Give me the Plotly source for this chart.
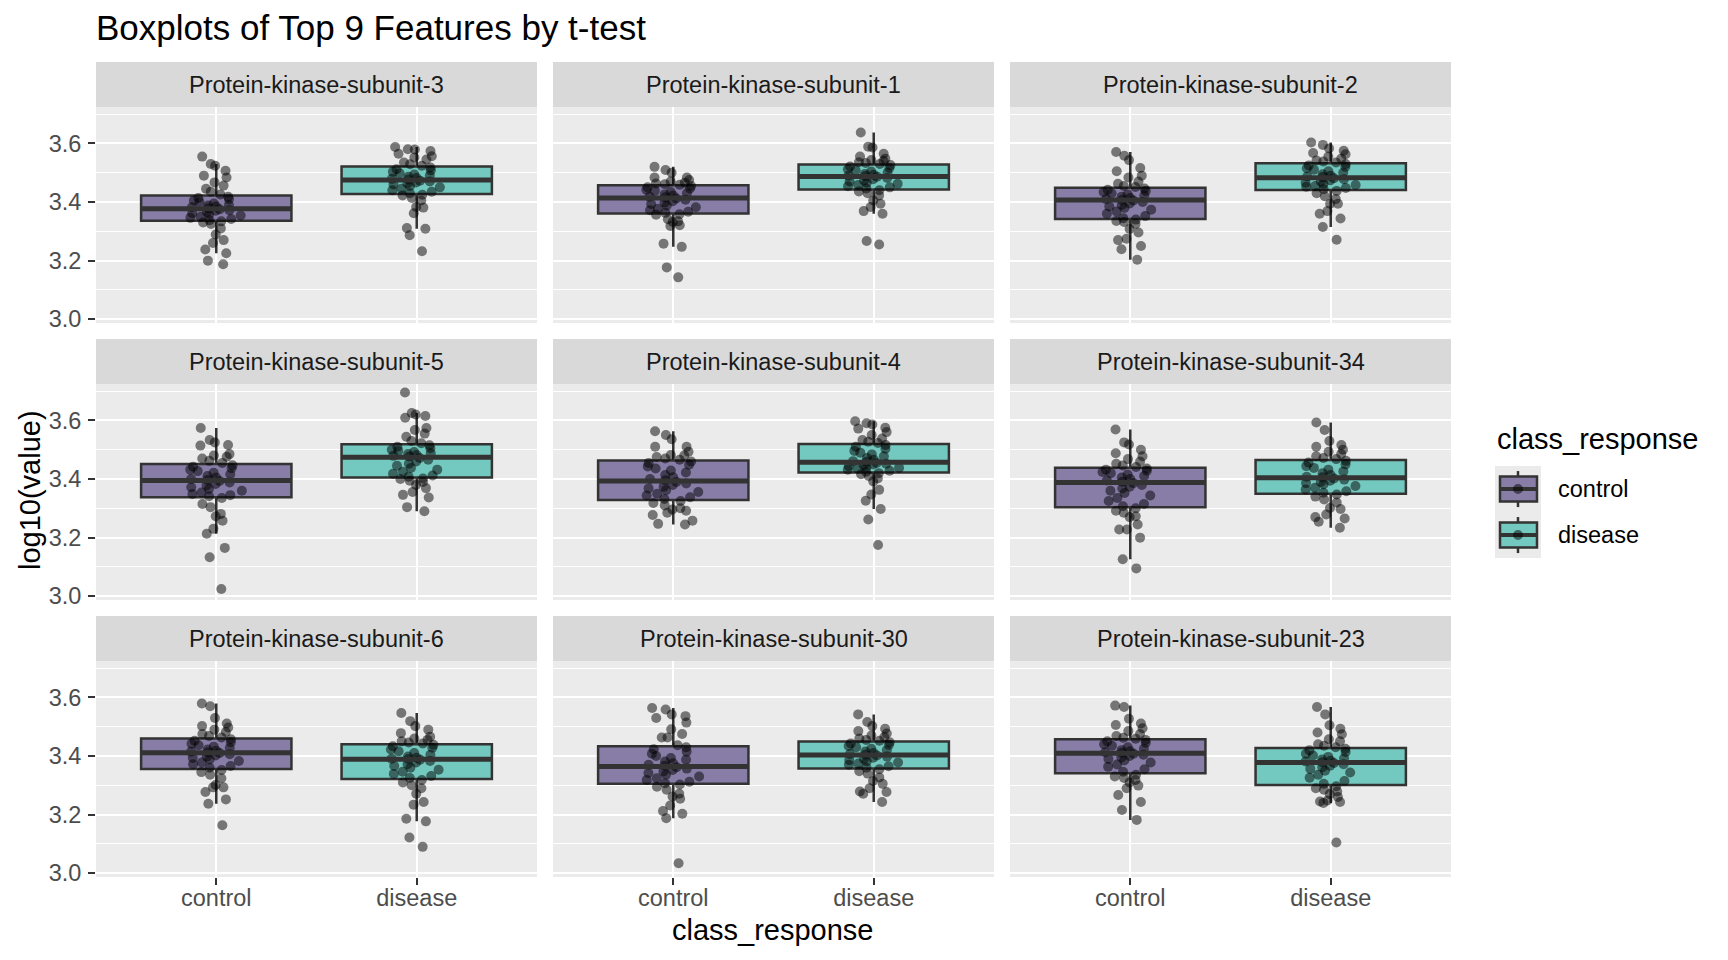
import numpy as np
import plotly.graph_objects as go

features = ["Protein-kinase-subunit-3", "Protein-kinase-subunit-1", "Protein-kinase-subunit-2",
            "Protein-kinase-subunit-5", "Protein-kinase-subunit-4", "Protein-kinase-subunit-34",
            "Protein-kinase-subunit-6", "Protein-kinase-subunit-30", "Protein-kinase-subunit-23"]
groups = ["control", "disease"]

# log10(value) per facet and class
pk3_control = [3.555, 3.53, 3.524, 3.507, 3.49, 3.484, 3.467, 3.456, 3.445, 3.435, 3.426,
               3.418, 3.414, 3.41, 3.405, 3.40, 3.395, 3.39, 3.388, 3.385, 3.382, 3.379,
               3.375, 3.372, 3.37, 3.366, 3.362, 3.358, 3.354, 3.35, 3.346, 3.342, 3.338,
               3.334, 3.33, 3.325, 3.31, 3.289, 3.27, 3.26, 3.238, 3.225, 3.2, 3.188]
pk3_disease = [3.588, 3.58, 3.579, 3.574, 3.565, 3.556, 3.552, 3.545, 3.535, 3.529, 3.524,
               3.518, 3.512, 3.508, 3.503, 3.498, 3.494, 3.49, 3.486, 3.482, 3.479, 3.477,
               3.473, 3.47, 3.467, 3.463, 3.46, 3.455, 3.45, 3.445, 3.44, 3.435, 3.43,
               3.425, 3.422, 3.414, 3.405, 3.383, 3.381, 3.362, 3.311, 3.309, 3.287, 3.232]
pk1_control = [3.52, 3.509, 3.5, 3.484, 3.484, 3.475, 3.47, 3.466, 3.463, 3.461, 3.459,
               3.455, 3.45, 3.446, 3.442, 3.438, 3.434, 3.43, 3.426, 3.422, 3.418, 3.416,
               3.412, 3.408, 3.403, 3.398, 3.393, 3.388, 3.382, 3.377, 3.372, 3.367, 3.363,
               3.358, 3.357, 3.341, 3.334, 3.332, 3.321, 3.318, 3.258, 3.247, 3.177, 3.143]
pk1_disease = [3.637, 3.589, 3.586, 3.565, 3.555, 3.548, 3.543, 3.54, 3.536, 3.533, 3.53,
               3.526, 3.521, 3.516, 3.512, 3.508, 3.504, 3.5, 3.496, 3.493, 3.49, 3.489,
               3.486, 3.482, 3.478, 3.474, 3.47, 3.466, 3.462, 3.458, 3.454, 3.45, 3.446,
               3.44, 3.436, 3.43, 3.422, 3.405, 3.394, 3.383, 3.369, 3.36, 3.267, 3.255]
pk2_control = [3.571, 3.558, 3.543, 3.516, 3.505, 3.49, 3.484, 3.47, 3.462, 3.455, 3.451,
               3.446, 3.442, 3.438, 3.434, 3.43, 3.426, 3.422, 3.418, 3.414, 3.41, 3.408,
               3.405, 3.4, 3.395, 3.39, 3.385, 3.38, 3.374, 3.368, 3.36, 3.352, 3.345,
               3.34, 3.335, 3.332, 3.325, 3.308, 3.296, 3.275, 3.27, 3.25, 3.239, 3.203]
pk2_disease = [3.603, 3.595, 3.583, 3.575, 3.567, 3.563, 3.555, 3.548, 3.542, 3.538, 3.535,
               3.53, 3.525, 3.52, 3.515, 3.51, 3.505, 3.5, 3.495, 3.49, 3.487, 3.485,
               3.481, 3.478, 3.474, 3.47, 3.466, 3.462, 3.458, 3.455, 3.452, 3.448, 3.444,
               3.438, 3.43, 3.42, 3.41, 3.394, 3.394, 3.369, 3.36, 3.344, 3.315, 3.271]
pk5_control = [3.574, 3.533, 3.525, 3.516, 3.514, 3.485, 3.48, 3.476, 3.47, 3.462, 3.455,
               3.447, 3.442, 3.437, 3.432, 3.427, 3.421, 3.416, 3.41, 3.405, 3.4, 3.397,
               3.393, 3.388, 3.383, 3.378, 3.372, 3.366, 3.36, 3.354, 3.349, 3.345, 3.341,
               3.335, 3.315, 3.304, 3.281, 3.273, 3.258, 3.23, 3.213, 3.165, 3.133, 3.025]
pk5_disease = [3.695, 3.625, 3.62, 3.615, 3.609, 3.574, 3.567, 3.555, 3.544, 3.53, 3.522,
               3.515, 3.51, 3.505, 3.5, 3.496, 3.492, 3.488, 3.485, 3.482, 3.479, 3.477,
               3.472, 3.466, 3.46, 3.452, 3.445, 3.438, 3.432, 3.425, 3.418, 3.412, 3.408,
               3.402, 3.4, 3.394, 3.39, 3.38, 3.369, 3.356, 3.346, 3.337, 3.304, 3.29]
pk4_control = [3.563, 3.55, 3.536, 3.51, 3.51, 3.493, 3.482, 3.48, 3.475, 3.47, 3.466,
               3.46, 3.455, 3.449, 3.443, 3.436, 3.429, 3.422, 3.414, 3.406, 3.4, 3.396,
               3.39, 3.385, 3.38, 3.374, 3.368, 3.362, 3.356, 3.35, 3.344, 3.338, 3.332,
               3.325, 3.318, 3.31, 3.3, 3.296, 3.292, 3.285, 3.277, 3.258, 3.247, 3.245]
pk4_disease = [3.597, 3.59, 3.586, 3.575, 3.572, 3.56, 3.55, 3.538, 3.533, 3.527, 3.523,
               3.516, 3.51, 3.503, 3.496, 3.49, 3.484, 3.478, 3.472, 3.466, 3.461, 3.459,
               3.455, 3.452, 3.45, 3.447, 3.444, 3.441, 3.438, 3.435, 3.432, 3.428, 3.425,
               3.42, 3.416, 3.41, 3.402, 3.392, 3.363, 3.347, 3.326, 3.298, 3.262, 3.175]
pk34_control = [3.569, 3.525, 3.518, 3.5, 3.488, 3.478, 3.468, 3.46, 3.452, 3.446, 3.441,
                3.436, 3.432, 3.428, 3.424, 3.42, 3.415, 3.41, 3.405, 3.4, 3.395, 3.391,
                3.386, 3.38, 3.374, 3.368, 3.36, 3.352, 3.344, 3.335, 3.325, 3.315, 3.307,
                3.3, 3.292, 3.285, 3.273, 3.27, 3.245, 3.228, 3.228, 3.2, 3.126, 3.095]
pk34_disease = [3.593, 3.567, 3.53, 3.516, 3.51, 3.5, 3.493, 3.485, 3.478, 3.472, 3.468,
                3.462, 3.456, 3.45, 3.444, 3.438, 3.432, 3.426, 3.42, 3.414, 3.408, 3.406,
                3.402, 3.398, 3.394, 3.39, 3.386, 3.382, 3.376, 3.37, 3.364, 3.358, 3.353,
                3.347, 3.34, 3.33, 3.32, 3.301, 3.298, 3.279, 3.27, 3.265, 3.254, 3.234]
pk6_control = [3.579, 3.57, 3.53, 3.511, 3.502, 3.497, 3.49, 3.482, 3.475, 3.468, 3.463,
               3.457, 3.452, 3.447, 3.442, 3.437, 3.432, 3.427, 3.422, 3.418, 3.415, 3.413,
               3.41, 3.406, 3.402, 3.398, 3.393, 3.388, 3.383, 3.378, 3.372, 3.366, 3.36,
               3.352, 3.345, 3.336, 3.324, 3.301, 3.293, 3.293, 3.277, 3.252, 3.237, 3.164]
pk6_disease = [3.547, 3.519, 3.502, 3.49, 3.478, 3.466, 3.46, 3.455, 3.45, 3.446, 3.443,
               3.438, 3.433, 3.428, 3.422, 3.416, 3.41, 3.404, 3.398, 3.394, 3.391, 3.39,
               3.387, 3.383, 3.378, 3.372, 3.366, 3.36, 3.353, 3.346, 3.339, 3.332, 3.325,
               3.318, 3.31, 3.3, 3.29, 3.271, 3.243, 3.234, 3.186, 3.177, 3.122, 3.09]
pk30_control = [3.564, 3.559, 3.542, 3.536, 3.53, 3.514, 3.491, 3.475, 3.463, 3.463, 3.437,
                3.43, 3.423, 3.415, 3.408, 3.4, 3.393, 3.387, 3.381, 3.375, 3.37, 3.367,
                3.362, 3.357, 3.352, 3.347, 3.342, 3.336, 3.33, 3.324, 3.318, 3.312, 3.307,
                3.303, 3.295, 3.285, 3.271, 3.262, 3.254, 3.231, 3.212, 3.203, 3.188, 3.034]
pk30_disease = [3.542, 3.516, 3.502, 3.493, 3.485, 3.477, 3.47, 3.465, 3.46, 3.455, 3.452,
                3.447, 3.443, 3.438, 3.434, 3.43, 3.425, 3.42, 3.415, 3.41, 3.407, 3.405,
                3.402, 3.398, 3.394, 3.39, 3.386, 3.382, 3.378, 3.374, 3.37, 3.365, 3.36,
                3.355, 3.348, 3.34, 3.327, 3.315, 3.305, 3.29, 3.279, 3.277, 3.271, 3.243]
pk23_control = [3.572, 3.567, 3.527, 3.511, 3.506, 3.495, 3.485, 3.475, 3.468, 3.462, 3.459,
                3.455, 3.45, 3.445, 3.44, 3.435, 3.43, 3.425, 3.42, 3.416, 3.413, 3.411,
                3.408, 3.404, 3.4, 3.395, 3.39, 3.385, 3.378, 3.371, 3.363, 3.355, 3.346,
                3.336, 3.33, 3.325, 3.318, 3.31, 3.299, 3.29, 3.267, 3.243, 3.216, 3.182]
pk23_disease = [3.567, 3.542, 3.505, 3.493, 3.48, 3.474, 3.457, 3.45, 3.44, 3.435, 3.43,
                3.425, 3.42, 3.414, 3.408, 3.402, 3.397, 3.392, 3.388, 3.384, 3.381, 3.379,
                3.376, 3.372, 3.367, 3.362, 3.356, 3.35, 3.344, 3.336, 3.326, 3.315, 3.305,
                3.297, 3.29, 3.285, 3.279, 3.27, 3.26, 3.248, 3.245, 3.243, 3.24, 3.105]

values = [(pk3_control, pk3_disease), (pk1_control, pk1_disease), (pk2_control, pk2_disease),
          (pk5_control, pk5_disease), (pk4_control, pk4_disease), (pk34_control, pk34_disease),
          (pk6_control, pk6_disease), (pk30_control, pk30_disease), (pk23_control, pk23_disease)]

fills = {"control": "#877DA6", "disease": "#73C9BF"}
FONT = "Liberation Sans, Arial, sans-serif"

# the page body has an 8px margin, so the figure is 16px smaller than the window;
# K corrects a small vertical squeeze seen in the rendered screenshots
W, H = 1728, 960
OFF = 8
K = 0.9905
FW, FH = W - 2 * OFF, H - 2 * OFF

def px(x):
    return (x - OFF) / FW

def py(y):
    return 1 - (y / K - OFF) / FH

# panel geometry in window pixels (ggplot facet_wrap look)
col_x = [(96, 537), (553, 994), (1010, 1451)]
row_y = [(107, 323), (384, 600), (661, 877)]
strip_h = 45
bw = 0.75

fig = go.Figure()
layout = {}
shapes = []
annotations = []

for i, feat in enumerate(features):
    r, c = divmod(i, 3)
    n = "" if i == 0 else str(i + 1)
    xa, ya = "x" + n, "y" + n
    for g_idx, g in enumerate(groups):
        vals = values[i][g_idx]
        fig.add_trace(go.Box(y=vals, x0=g_idx, width=bw, name=g, showlegend=False,
                             boxpoints="all", marker=dict(color="rgba(0,0,0,0)", size=1),
                             fillcolor=fills[g], line=dict(color="#333333", width=2.5),
                             whiskerwidth=0, hoverinfo="skip", xaxis=xa, yaxis=ya))
        med = float(np.median(vals))
        fig.add_trace(go.Scatter(x=[g_idx - bw / 2, g_idx + bw / 2], y=[med, med], mode="lines",
                                 line=dict(color="#333333", width=5), showlegend=False,
                                 hoverinfo="skip", xaxis=xa, yaxis=ya))
        fig.add_trace(go.Box(y=vals, x0=g_idx, width=bw, name=g, boxpoints="all", jitter=0.4,
                             pointpos=0, fillcolor="rgba(0,0,0,0)",
                             line=dict(color="rgba(0,0,0,0)", width=0),
                             marker=dict(color="rgba(0,0,0,0.5)", size=10), showlegend=False,
                             hoverinfo="skip", xaxis=xa, yaxis=ya))

    x0, x1 = col_x[c]
    y0, y1 = row_y[r]
    bottom = r == 2
    left = c == 0
    layout["xaxis" + n] = dict(domain=[px(x0), px(x1)], anchor=ya, range=[-0.6, 1.6],
                               tickvals=[0, 1], ticktext=groups, showticklabels=bottom,
                               ticks="outside" if bottom else "", ticklen=7, tickwidth=2,
                               tickcolor="#333333", tickfont=dict(size=23.5, color="#4D4D4D"),
                               ticklabelstandoff=-7,
                               showgrid=True, gridcolor="white", gridwidth=2,
                               zeroline=False, showline=False)
    layout["yaxis" + n] = dict(domain=[py(y1), py(y0)], anchor=xa, range=[2.987, 3.724],
                               tickvals=[3.0, 3.2, 3.4, 3.6], ticktext=["3.0", "3.2", "3.4", "3.6"],
                               showticklabels=left, ticks="outside" if left else "", ticklen=7,
                               tickwidth=2, tickcolor="#333333",
                               tickfont=dict(size=23.5, color="#4D4D4D"),
                               ticklabelstandoff=2,
                               showgrid=True, gridcolor="white", gridwidth=2,
                               minor=dict(tickvals=[3.1, 3.3, 3.5, 3.7], showgrid=True,
                                          gridcolor="white", gridwidth=1),
                               zeroline=False, showline=False)
    # strip
    shapes.append(dict(type="rect", xref="paper", yref="paper", x0=px(x0), x1=px(x1),
                       y0=py(y0), y1=py(y0 - strip_h), fillcolor="#D9D9D9", line=dict(width=0)))
    annotations.append(dict(text=feat, xref="paper", yref="paper", x=px((x0 + x1) / 2),
                            y=py(y0 - strip_h / 2), xanchor="center", yanchor="middle",
                            showarrow=False, font=dict(size=23.5, color="#1A1A1A")))

# axis titles
annotations.append(dict(text="class_response", xref="paper", yref="paper", x=px(773), y=py(930),
                        xanchor="center", yanchor="middle", showarrow=False,
                        font=dict(size=29, color="black")))
annotations.append(dict(text="log10(value)", xref="paper", yref="paper", x=px(30), y=py(490),
                        xanchor="center", yanchor="middle", textangle=-90, showarrow=False,
                        font=dict(size=29, color="black")))

# legend, drawn ggplot style: title, grey key background, box glyphs, labels
annotations.append(dict(text="class_response", xref="paper", yref="paper", x=px(1495), y=py(439),
                        xanchor="left", yanchor="middle", showarrow=False,
                        font=dict(size=29, color="black")))
shapes.append(dict(type="rect", xref="paper", yref="paper", x0=px(1495), x1=px(1541),
                   y0=py(558), y1=py(466), fillcolor="#EBEBEB", line=dict(width=0)))
for k, g in enumerate(groups):
    cy = 489 + 46 * k
    shapes.append(dict(type="line", xref="paper", yref="paper", x0=px(1518), x1=px(1518),
                       y0=py(cy - 18), y1=py(cy + 18), line=dict(color="#333333", width=2.5)))
    shapes.append(dict(type="rect", xref="paper", yref="paper", x0=px(1500), x1=px(1537),
                       y0=py(cy + 12.5), y1=py(cy - 12.5), fillcolor=fills[g],
                       line=dict(color="#333333", width=2.5)))
    shapes.append(dict(type="line", xref="paper", yref="paper", x0=px(1500), x1=px(1537),
                       y0=py(cy), y1=py(cy), line=dict(color="#333333", width=4)))
    shapes.append(dict(type="circle", xref="paper", yref="paper", x0=px(1513), x1=px(1523),
                       y0=py(cy + 5), y1=py(cy - 5), fillcolor="rgba(0,0,0,0.5)",
                       line=dict(width=0)))
    annotations.append(dict(text=g, xref="paper", yref="paper", x=px(1556), y=py(cy),
                            xanchor="left", yanchor="middle", showarrow=False,
                            font=dict(size=23.5, color="black")))

fig.update_layout(
    width=FW, height=FH,
    margin=dict(l=0, r=0, t=0, b=0),
    paper_bgcolor="white", plot_bgcolor="#EBEBEB",
    font=dict(family=FONT, color="black"),
    boxmode="overlay",
    showlegend=False,
    title=dict(text="Boxplots of Top 9 Features by t-test", x=px(96), xanchor="left",
               xref="paper", y=py(27), yanchor="middle", font=dict(size=35, color="black")),
    shapes=shapes, annotations=annotations,
    **layout,
)

fig.write_html("out.html")
